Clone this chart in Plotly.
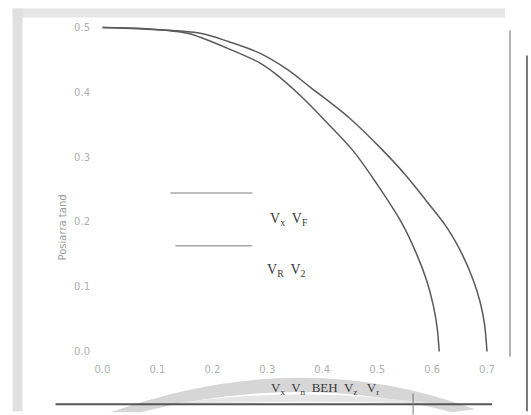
import plotly.graph_objects as go

# Curve samples (x, y) for the two boundaries
inner_x = [0.0, 0.08, 0.155, 0.178, 0.23, 0.287, 0.311, 0.36, 0.41, 0.456, 0.50, 0.545, 0.573, 0.59, 0.602, 0.609, 0.613]
inner_y = [0.5, 0.498, 0.491, 0.485, 0.467, 0.445, 0.431, 0.395, 0.352, 0.31, 0.258, 0.198, 0.148, 0.11, 0.072, 0.038, 0.0]

outer_x = [0.0, 0.09, 0.178, 0.23, 0.287, 0.335, 0.378, 0.45, 0.505, 0.55, 0.59, 0.628, 0.656, 0.675, 0.687, 0.695, 0.70]
outer_y = [0.5, 0.497, 0.491, 0.478, 0.46, 0.436, 0.408, 0.36, 0.315, 0.274, 0.232, 0.19, 0.148, 0.11, 0.078, 0.045, 0.0]

x_ticks = [0.0, 0.1, 0.2, 0.3, 0.4, 0.5, 0.6, 0.7]
y_ticks = [0.0, 0.1, 0.2, 0.3, 0.4, 0.5]

legend_labels = ["V<sub>x</sub>  V<sub>F</sub>", "V<sub>R</sub>  V<sub>2</sub>"]
y_title = "Posiarra tand"
x_title = "V<sub>x</sub>  V<sub>n</sub>  BEH  V<sub>z</sub>   V<sub>r</sub>"

W, H = 531, 415
L, R, T, B = 96.5, 33, 20.5, 56.5
PW, PH = W - L - R, H - T - B


def px(x):
    return (x - L) / PW


def py(y):
    return (H - B - y) / PH


fig = go.Figure()
for xs, ys in ((inner_x, inner_y), (outer_x, outer_y)):
    fig.add_trace(go.Scatter(x=xs, y=ys, mode="lines",
                             line=dict(color="#5a5a5a", width=1.5, shape="spline", smoothing=1),
                             showlegend=False, hoverinfo="skip"))

shapes = []
# frame bands
shapes.append(dict(type="rect", xref="paper", yref="paper", x0=px(12), x1=px(505), y0=py(8), y1=py(17),
                   fillcolor="#e6e6e6", line=dict(width=0), layer="below"))
shapes.append(dict(type="rect", xref="paper", yref="paper", x0=px(12), x1=px(22), y0=py(8), y1=py(412),
                   fillcolor="#e0e0e0", line=dict(width=0), layer="below"))
shapes.append(dict(type="line", xref="paper", yref="paper", x0=px(510), x1=px(510), y0=py(30), y1=py(357),
                   line=dict(color="#9a9a9a", width=1.5)))
shapes.append(dict(type="line", xref="paper", yref="paper", x0=px(527), x1=px(527), y0=py(55), y1=py(412),
                   line=dict(color="#4a4a4a", width=1.5)))


def qpath(pts_top, pts_bot):
    (a, b, c), (d, e, f) = pts_top, pts_bot
    s = "M {},{} Q {},{} {},{} L {},{} Q {},{} {},{} Z".format(
        px(a[0]), py(a[1]), px(b[0]), py(b[1]), px(c[0]), py(c[1]),
        px(d[0]), py(d[1]), px(e[0]), py(e[1]), px(f[0]), py(f[1]))
    return s


# arched band beneath the axis
shapes.append(dict(type="path", xref="paper", yref="paper",
                   path=qpath(((110, 413), (300, 345), (475, 410)), ((452, 413), (300, 372), (140, 413))),
                   fillcolor="#d6d6d6", line=dict(width=0)))
shapes.append(dict(type="path", xref="paper", yref="paper",
                   path=qpath(((170, 405), (300, 385), (440, 405)), ((440, 405), (300, 400), (170, 405))),
                   fillcolor="#e6e6e6", line=dict(width=0)))
shapes.append(dict(type="line", xref="paper", yref="paper", x0=px(55), x1=px(492), y0=py(405), y1=py(405),
                   line=dict(color="#555555", width=2)))
shapes.append(dict(type="line", xref="paper", yref="paper", x0=px(413), x1=px(413), y0=py(394), y1=py(415),
                   line=dict(color="#777777", width=1)))

# legend samples
shapes.append(dict(type="line", xref="paper", yref="paper", x0=px(170), x1=px(252), y0=py(193), y1=py(193),
                   line=dict(color="#a8a8a8", width=1.5)))
shapes.append(dict(type="line", xref="paper", yref="paper", x0=px(175), x1=px(252), y0=py(246), y1=py(246),
                   line=dict(color="#a8a8a8", width=1.5)))

serif = "Liberation Serif, DejaVu Serif, serif"
annotations = [
    dict(xref="paper", yref="paper", x=px(268), y=py(220), text=legend_labels[0], showarrow=False,
         xanchor="left", yanchor="middle", font=dict(family=serif, size=14, color="#3a3a3a")),
    dict(xref="paper", yref="paper", x=px(265), y=py(271), text=legend_labels[1], showarrow=False,
         xanchor="left", yanchor="middle", font=dict(family=serif, size=14, color="#3a3a3a")),
    dict(xref="paper", yref="paper", x=px(325), y=py(389), text=x_title, showarrow=False,
         xanchor="center", yanchor="middle", font=dict(family=serif, size=13, color="#3a3a3a")),
    dict(xref="paper", yref="paper", x=px(62), y=py(228), text=y_title, showarrow=False, textangle=-90,
         xanchor="center", yanchor="middle", font=dict(family="DejaVu Sans", size=10, color="#9a9a9a")),
]

fig.update_layout(
    width=W, height=H,
    margin=dict(l=L, r=R, t=T, b=B, pad=0),
    paper_bgcolor="white", plot_bgcolor="white",
    shapes=shapes, annotations=annotations,
    xaxis=dict(range=[-0.01, 0.72], tickvals=x_ticks, tickformat=".1f", showgrid=False, zeroline=False,
               showline=False, ticks="", ticklabelstandoff=4,
               tickfont=dict(family="DejaVu Sans", size=10, color="#b0b0b0")),
    yaxis=dict(range=[-0.01, 0.51], tickvals=y_ticks, tickformat=".1f", showgrid=False, zeroline=False,
               showline=False, ticks="", ticklabelstandoff=6,
               tickfont=dict(family="DejaVu Sans", size=10, color="#b0b0b0")),
)

fig.write_html("out.html")
